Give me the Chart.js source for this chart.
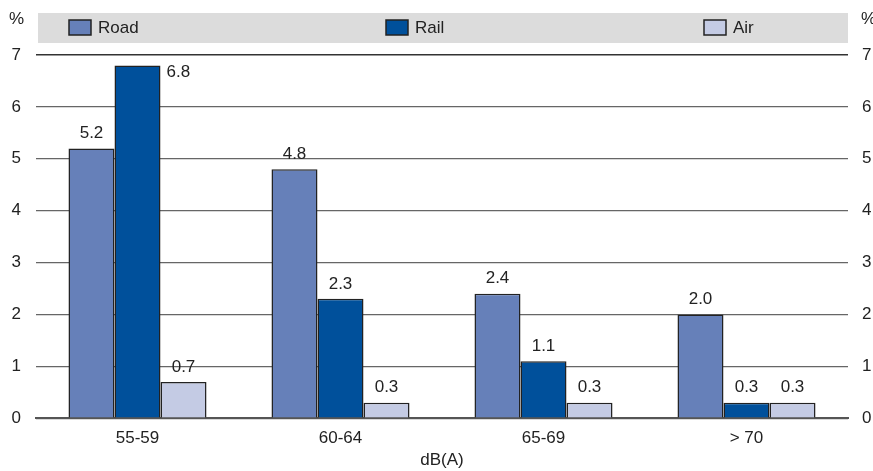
<!DOCTYPE html>
<html>
<head>
<meta charset="utf-8">
<script src="https://cdn.jsdelivr.net/npm/chart.js@4.4.1/dist/chart.umd.min.js"></script>
<style>
	html, body { margin: 0; padding: 0; background: #fff; }
	#wrap { width: 873px; height: 471px; position: relative; }
</style>
</head>
<body>
<div id="wrap"><canvas id="chart" width="873" height="471"></canvas></div>
<script>
const BANDS = ["55-59", "60-64", "65-69", "> 70"];
const ROAD = [5.2, 4.8, 2.4, 2.0];
const RAIL = [6.8, 2.3, 1.1, 0.3];
const AIR = [0.7, 0.3, 0.3, 0.3];
const Y_TICKS = [0, 1, 2, 3, 4, 5, 6, 7];

const FONT = "'Liberation Sans Narrow', 'Liberation Sans', sans-serif";
const SIZE = 17;
const TEXT = "#222";
const Y_MAX = Y_TICKS[Y_TICKS.length - 1];

const series = [
	{ label: "Road", data: ROAD, color: "#6680b9", legendX: 69 },
	{ label: "Rail", data: RAIL, color: "#00509b", legendX: 386 },
	{ label: "Air", data: AIR, color: "#c4cbe4", legendX: 704 },
];

// grey legend band, the "%" unit marks and value labels over each bar
const decorations = {
	id: "decorations",
	beforeDraw(chart) {
		const { ctx, chartArea } = chart;
		ctx.save();
		ctx.fillStyle = "#dcdcdc";
		ctx.fillRect(chartArea.left + 2, 13, chartArea.right - chartArea.left - 2, 30);
		ctx.font = `${SIZE}px ${FONT}`;
		ctx.textBaseline = "middle";
		for (const s of series) {
			ctx.fillStyle = s.color;
			ctx.fillRect(s.legendX, 20, 22, 15);
			ctx.strokeStyle = "#222";
			ctx.lineWidth = 1.5;
			ctx.strokeRect(s.legendX, 20, 22, 15);
			ctx.fillStyle = TEXT;
			ctx.textAlign = "left";
			ctx.fillText(s.label, s.legendX + 29, 28);
		}
		ctx.textAlign = "left";
		ctx.fillText("%", 9, 19);
		ctx.fillText("%", 861, 19);
		ctx.restore();
	},
	afterDatasetsDraw(chart) {
		const { ctx, chartArea } = chart;
		ctx.save();
		ctx.font = `${SIZE}px ${FONT}`;
		ctx.fillStyle = TEXT;
		ctx.textBaseline = "middle";
		chart.data.datasets.forEach((ds, i) => {
			chart.getDatasetMeta(i).data.forEach((bar, j) => {
				const txt = ds.data[j].toFixed(1);
				if (bar.y - 15 < chartArea.top + 8) {
					// no room above the bar: put the value beside its top
					ctx.textAlign = "left";
					ctx.fillText(txt, bar.x + bar.width / 2 + 6, bar.y + 7);
				} else {
					ctx.textAlign = "center";
					ctx.fillText(txt, bar.x, bar.y - 15);
				}
			});
		});
		ctx.restore();
	},
};

const yTicks = {
	color: TEXT,
	font: { family: FONT, size: SIZE },
	stepSize: 1,
	padding: 15,
};

new Chart(document.getElementById("chart"), {
	type: "bar",
	data: {
		labels: BANDS,
		datasets: series.map((s) => ({
			label: s.label,
			data: s.data,
			backgroundColor: s.color,
			borderColor: "#222",
			borderWidth: 1.5,
			categoryPercentage: 0.68,
			barPercentage: 1,
		})),
	},
	options: {
		responsive: false,
		animation: false,
		layout: { padding: { top: 55, left: 0, right: 0, bottom: 0 } },
		plugins: { legend: { display: false }, tooltip: { enabled: false } },
		scales: {
			x: {
				grid: { display: false },
				border: { color: "#555", width: 2 },
				ticks: { color: TEXT, font: { family: FONT, size: SIZE }, padding: 2 },
				title: {
					display: true,
					text: "dB(A)",
					color: TEXT,
					font: { family: FONT, size: SIZE },
					padding: { top: 0, bottom: 0 },
				},
			},
			y: {
				min: 0,
				max: Y_MAX,
				afterBuildTicks: (axis) => { axis.ticks = Y_TICKS.map((v) => ({ value: v })); },
				afterFit: (axis) => { axis.width = 36; },
				grid: {
					color: (c) => (c.tick && c.tick.value === Y_MAX ? "#333" : "#666"),
					lineWidth: (c) => (c.tick && c.tick.value === Y_MAX ? 1.6 : 1.2),
					drawTicks: false,
				},
				border: { display: false },
				ticks: yTicks,
			},
			y2: {
				position: "right",
				min: 0,
				max: Y_MAX,
				afterBuildTicks: (axis) => { axis.ticks = Y_TICKS.map((v) => ({ value: v })); },
				afterFit: (axis) => { axis.width = 25; },
				grid: { display: false, drawTicks: false },
				border: { display: false },
				ticks: { ...yTicks, padding: 14 },
			},
		},
	},
	plugins: [decorations],
});
</script>
</body>
</html>
